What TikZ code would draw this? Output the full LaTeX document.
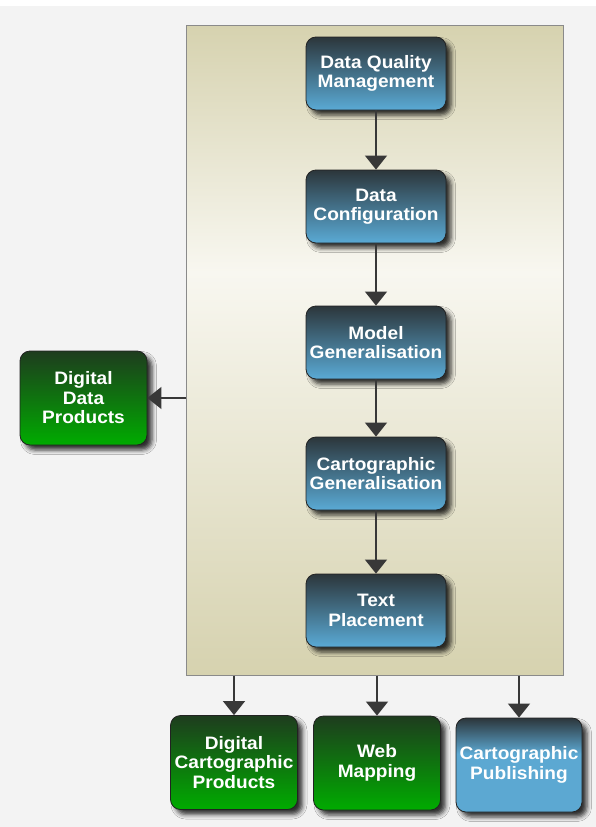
\documentclass[tikz,border=0pt]{standalone}
\usepackage{fontspec}
\setmainfont{Liberation Sans}
\newfontfamily\boxfont{Liberation Sans}[FakeStretch=1.06]
\usetikzlibrary{arrows.meta,shadows.blur}

% palette
\definecolor{pagebg}{HTML}{F3F3F3}
\definecolor{tanc}{HTML}{D6D2AF}
\definecolor{panellight}{HTML}{F8F7F0}
\definecolor{panelline}{HTML}{8A8A8A}
\definecolor{bluetop}{HTML}{2C363B}
\definecolor{bluebot}{HTML}{5AAAD5}
\definecolor{pubblue}{HTML}{5CA8D2}
\definecolor{greentop}{HTML}{1E3C1E}
\definecolor{greenmid}{HTML}{089808}
\definecolor{greenbot}{HTML}{00AC00}
\definecolor{boxline}{HTML}{222222}
\definecolor{arrowc}{HTML}{383838}

% tan panel, lightest a little above its middle
\pgfdeclareverticalshading{panelshade}{100bp}{%
  color(0bp)=(tanc); color(25bp)=(tanc); color(56bp)=(panellight);
  color(75bp)=(tanc); color(100bp)=(tanc)}
% publishing box: dark band at the top, light blue below
\pgfdeclareverticalshading{pubshade}{100bp}{%
  color(0bp)=(pubblue); color(25bp)=(pubblue); color(56bp)=(pubblue);
  color(75bp)=(bluetop); color(100bp)=(bluetop)}

\begin{document}
\begin{tikzpicture}[x=1pt,y=-1pt,
  panel/.style={draw=panelline,line width=1pt,shading=panelshade,
    minimum width=377pt,minimum height=650pt,inner sep=0pt},
  card/.style={rounded corners=10pt,draw=boxline,line width=0.8pt,
    text=white,align=center,inner sep=0pt,
    font=\boxfont\bfseries\fontsize{18}{19.5}\selectfont,
    blur shadow={shadow xshift=5pt,shadow yshift=-5pt,
      shadow blur radius=4.5pt,shadow opacity=80}},
  process/.style={card,top color=bluetop,bottom color=bluebot,
    minimum width=140pt,minimum height=73pt},
  product/.style={card,top color=greentop,middle color=greenmid,bottom color=greenbot,
    minimum width=127pt,minimum height=94pt},
  output/.style={card,shading=pubshade,
    minimum width=126pt,minimum height=94pt},
  arr/.style={draw=arrowc,line width=1.3pt,
    -{Triangle[width=22pt,length=14pt]},arrowc}]

\useasboundingbox (0,0) rectangle (596,827);
\fill[pagebg] (0,6) rectangle (596,827);
\fill[white] (0,0) rectangle (596,6);

% workflow panel
\node[panel] (panel) at (375,350) {};

% processing chain
\node[process] (dqm) at (376,73.5)  {Data Quality\\Management};
\node[process] (dc)  at (376,206.5) {Data\\Configuration};
\node[process] (mg)  at (376,342.5) {Model\\Generalisation};
\node[process] (cg)  at (376,473.5) {Cartographic\\Generalisation};
\node[process] (tp)  at (376,610.5) {Text\\Placement};

% products
\node[product] (ddp) at (83.5,398) {Digital\\Data\\Products};
\node[product] (dcp) at (234,762.5) {Digital\\Cartographic\\Products};
\node[product] (wm)  at (377,763)  {Web\\Mapping};
\node[output]  (cp)  at (519,765)  {Cartographic\\Publishing};

% connectors
\draw[arr] (dqm) -- (dc);
\draw[arr] (dc) -- (mg);
\draw[arr] (mg) -- (cg);
\draw[arr] (cg) -- (tp);
\draw[arr] (panel.west |- ddp.east) -- (ddp.east);
\draw[arr] (dcp.north |- panel.south) -- (dcp.north);
\draw[arr] (wm.north |- panel.south) -- (wm.north);
\draw[arr] (cp.north |- panel.south) -- (cp.north);
\end{tikzpicture}
\end{document}
